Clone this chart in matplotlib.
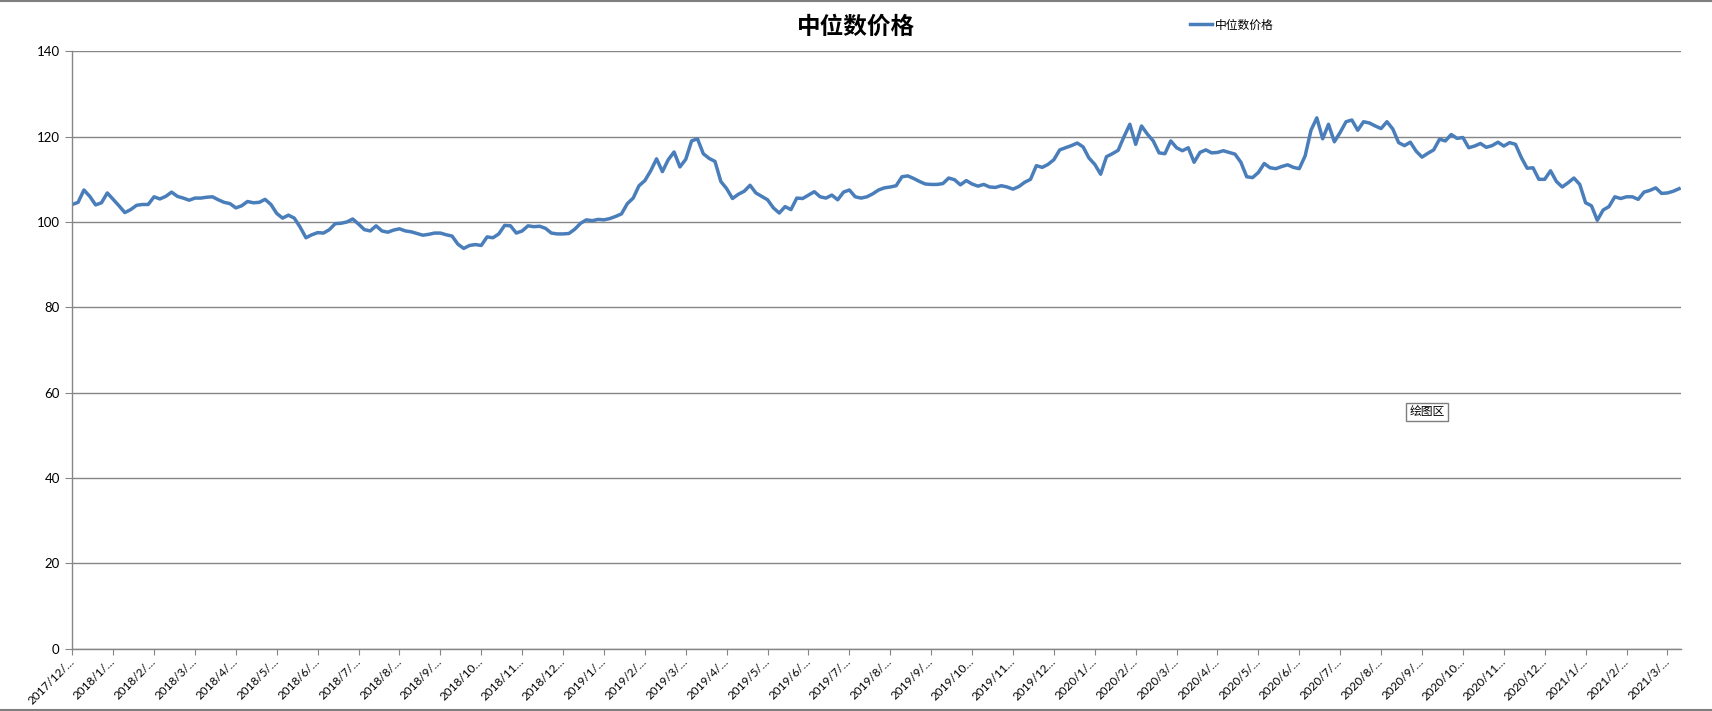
import matplotlib
matplotlib.use("Agg")
import matplotlib.pyplot as plt
from matplotlib.lines import Line2D
import numpy as np

plt.rcParams['font.family'] = ['Lato', 'Noto Sans CJK SC', 'DejaVu Sans']

#####################################################################
# data (one value every ~3 trading days)
title = '中位数价格'
series_name = '中位数价格'

price = [
    104.1, 104.6, 107.5, 106.0, 104.0, 104.5, 106.8, 105.3, 103.8, 102.2,
    102.9, 103.9, 104.1, 104.1, 105.9, 105.4, 106.0, 107.0, 106.0, 105.6,
    105.1, 105.6, 105.6, 105.8, 105.9, 105.2, 104.6, 104.3, 103.3, 103.8,
    104.8, 104.5, 104.6, 105.3, 104.1, 102.0, 100.9, 101.6, 100.9, 98.8,
    96.3, 97.0, 97.5, 97.4, 98.2, 99.6, 99.7, 100.0, 100.7, 99.5,
    98.2, 97.9, 99.1, 97.9, 97.6, 98.1, 98.4,
    97.9, 97.7, 97.3, 96.9, 97.1, 97.4, 97.4, 97.0, 96.7, 94.8,
    93.8, 94.5, 94.7, 94.5, 96.5, 96.3, 97.2, 99.2, 99.1, 97.4,
    97.9, 99.1, 98.9, 99.0, 98.5, 97.4, 97.2, 97.2, 97.3, 98.3,
    99.7, 100.5, 100.3, 100.6, 100.5, 100.8, 101.3, 101.9, 104.3, 105.6,
    108.5, 109.7, 112.0, 114.8, 111.8, 114.6, 116.4, 112.9, 114.7, 119.0,
    119.5, 116.0, 114.9, 114.2, 109.5, 107.8, 105.5, 106.5,
    107.2, 108.6, 106.8, 106.0, 105.2, 103.3, 102.1, 103.6, 102.9, 105.6,
    105.5, 106.3, 107.1, 105.9, 105.6, 106.3, 105.2, 107.0, 107.5, 105.9,
    105.6, 105.9, 106.6, 107.5, 108.0, 108.2, 108.5, 110.6, 110.8, 110.2,
    109.5, 108.9, 108.8, 108.8, 109.0, 110.3, 109.9, 108.7, 109.7, 108.9,
    108.4, 108.8, 108.2, 108.1, 108.5, 108.2, 107.7, 108.3, 109.3, 110.0,
    113.2, 112.8, 113.5, 114.6, 116.9, 117.4, 117.9, 118.5,
    117.6, 115.0, 113.5, 111.2, 115.3, 116.0, 116.8, 120.0, 122.9, 118.2,
    122.5, 120.6, 119.0, 116.2, 116.0, 119.0, 117.4, 116.7, 117.4, 114.0,
    116.3, 116.9, 116.2, 116.3, 116.7, 116.3, 115.9, 114.0, 110.6, 110.4,
    111.6, 113.7, 112.7, 112.5, 113.0, 113.4, 112.8, 112.5, 115.5, 121.5,
    124.4, 119.5, 122.9, 118.8, 121.0, 123.5, 123.9, 121.5, 123.5, 123.2,
    122.5, 121.9, 123.5, 121.8, 118.6,
    117.9, 118.7, 116.6, 115.2, 116.1, 116.9, 119.4, 119.0, 120.5, 119.6,
    119.8, 117.4, 117.8, 118.4, 117.5, 117.9, 118.7, 117.8, 118.6, 118.2,
    115.1, 112.6, 112.7, 110.0, 110.0, 112.0, 109.5, 108.2, 109.2, 110.3,
    108.8, 104.5, 103.8, 100.4, 102.8, 103.6, 105.9, 105.5, 105.9, 105.9,
    105.3, 107.0, 107.4, 108.0, 106.7, 106.8, 107.2, 107.8,
]

month_labels = [
    '2017/12/…',
    '2018/1/…', '2018/2/…', '2018/3/…', '2018/4/…', '2018/5/…', '2018/6/…',
    '2018/7/…', '2018/8/…', '2018/9/…', '2018/10…', '2018/11…', '2018/12…',
    '2019/1/…', '2019/2/…', '2019/3/…', '2019/4/…', '2019/5/…', '2019/6/…',
    '2019/7/…', '2019/8/…', '2019/9/…', '2019/10…', '2019/11…', '2019/12…',
    '2020/1/…', '2020/2/…', '2020/3/…', '2020/4/…', '2020/5/…', '2020/6/…',
    '2020/7/…', '2020/8/…', '2020/9/…', '2020/10…', '2020/11…', '2020/12…',
    '2021/1/…', '2021/2/…', '2021/3/…',
]
y_ticks = [0, 20, 40, 60, 80, 100, 120, 140]

#####################################################################
# figure
fig = plt.figure(figsize=(17.12, 7.11), dpi=100)
ax = fig.add_axes([0.0422, 0.0878, 0.9395, 0.84])

line_color = '#4A7EBB'
grid_color = '#868686'

x = np.arange(len(price))
ax.plot(x, price, color=line_color, lw=2.5, solid_joinstyle='round', label=series_name)

# axes
ax.set_xlim(0, len(price) - 1 + 0.27)
ax.set_ylim(0, 140)
ax.set_yticks(y_ticks)
ax.yaxis.grid(True, color=grid_color, lw=1)
ax.set_axisbelow(True)

tick_step = 7
ax.set_xticks(np.arange(len(month_labels)) * tick_step)
ax.set_xticklabels(month_labels, rotation=45, ha='right', va='center',
                   rotation_mode='anchor', fontsize=8.5)
ax.tick_params(axis='y', labelsize=9.5, length=5, color=grid_color, pad=4)
ax.tick_params(axis='x', length=4, color=grid_color, pad=4)

for side in ['top', 'right']:
    ax.spines[side].set_visible(False)
for side in ['left', 'bottom']:
    ax.spines[side].set_color(grid_color)
    ax.spines[side].set_linewidth(1)

# title and legend
fig.text(0.5, 0.962, title, ha='center', va='center', fontsize=17, fontweight='bold',
         family=['Noto Sans CJK SC', 'DejaVu Sans'])
ax.legend(loc='center left', bbox_to_anchor=(0.6886, 1.044), frameon=False, handlelength=1.8,
          handletextpad=0.3, prop={'family': 'Noto Sans CJK SC', 'size': 8.5})

# plot-area tooltip
fig.text(1427 / 1712, 1 - 412 / 711, '绘图区', ha='center', va='center', fontsize=8.5,
         family=['Noto Sans CJK SC'],
         bbox=dict(boxstyle='square,pad=0.25', fc='white', ec='#7f7f7f', lw=1))

# chart-area border (top and bottom edges)
fig.lines.append(Line2D([0, 1], [0.999, 0.999], transform=fig.transFigure, color='#7f7f7f', lw=1.5))
fig.lines.append(Line2D([0, 1], [0.002, 0.002], transform=fig.transFigure, color='#7f7f7f', lw=1.5))

fig.savefig('out.png', dpi=100)
